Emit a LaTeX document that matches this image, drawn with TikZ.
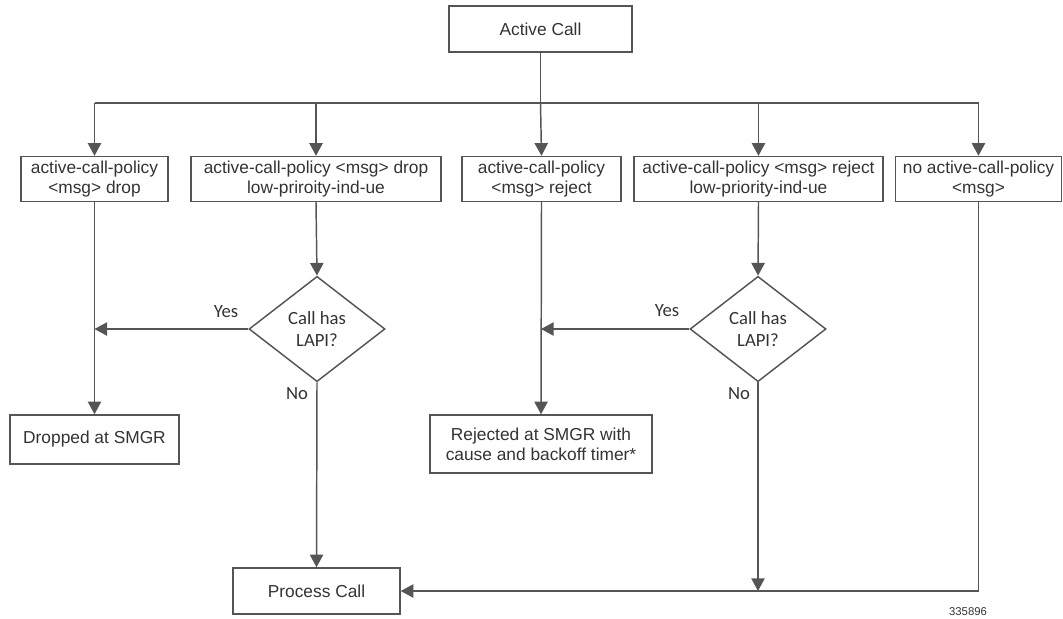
\documentclass[tikz,border=0pt]{standalone}
\usepackage{fontspec}
\setmainfont{Liberation Sans}
\newfontfamily\calfont{Carlito}
\usetikzlibrary{arrows.meta,shapes.geometric}
\definecolor{lncol}{HTML}{555555}
\definecolor{txcol}{HTML}{333333}
\begin{document}
\begin{tikzpicture}[x=0.75pt,y=-0.75pt,
  every node/.style={text=txcol},
  boxnode/.style={draw=lncol,line width=1.1pt,rectangle,inner sep=0pt,align=center,
    font=\fontsize{13pt}{15pt}\selectfont},
  decnode/.style={draw=lncol,line width=1.1pt,diamond,aspect=1.3,inner sep=0pt,align=center,
    minimum width=102pt,minimum height=79pt,font=\calfont\fontsize{14pt}{17pt}\selectfont},
  lbl/.style={font=\calfont\fontsize{14pt}{17pt}\selectfont,inner sep=0pt},
  conn/.style={draw=lncol,line width=1.1pt},
  arr/.style={conn,-{Triangle[length=9.5pt,width=10pt]}}]
\useasboundingbox (0,0) rectangle (1063,618);

\node[boxnode,minimum width=137.25pt,minimum height=34.5pt] (ac) at (540.5,29) {Active Call};

\node[boxnode,minimum width=110.25pt,minimum height=33.75pt] (p1) at (94.5,179) {active-call-policy\\\textless msg\textgreater{} drop};
\node[boxnode,minimum width=187.5pt,minimum height=33.75pt] (p2) at (316,179) {active-call-policy \textless msg\textgreater{} drop\\low-priroity-ind-ue};
\node[boxnode,minimum width=119.25pt,minimum height=33.75pt] (p3) at (541.5,179) {active-call-policy\\\textless msg\textgreater{} reject};
\node[boxnode,minimum width=186.75pt,minimum height=33.75pt] (p4) at (758.5,179) {active-call-policy \textless msg\textgreater{} reject\\low-priority-ind-ue};
\node[boxnode,minimum width=124.5pt,minimum height=33.75pt] (p5) at (978.5,179) {no active-call-policy\\\textless msg\textgreater};

\node[decnode] (d1) at (317,329) {Call has\\LAPI?};
\node[decnode] (d2) at (758,329) {Call has\\LAPI?};

\node[boxnode,minimum width=126.75pt,minimum height=36.75pt] (drop) at (94.5,439.5) {Dropped at SMGR};
\node[boxnode,minimum width=166.5pt,minimum height=43.5pt] (rej) at (541,444) {Rejected at SMGR with\\cause and backoff timer*};
\node[boxnode,minimum width=125.25pt,minimum height=34.5pt] (proc) at (316.5,591) {Process Call};

\node[lbl] (y1) at (226,312) {Yes};
\node[lbl] (y2) at (667,311) {Yes};
\node[lbl] (n1) at (297,394) {No};
\node[lbl] (n2) at (739,394) {No};

\node[inner sep=0pt,font=\fontsize{8.5pt}{10pt}\selectfont] (id) at (968,612) {335896};

\coordinate (bL) at (94.5,103);
\coordinate (bR) at (978.5,103);
\coordinate (bA) at (540.5,103);
\coordinate (j1) at (94.5,329);
\coordinate (j2) at (541,329);
\coordinate (m2) at (758,591);
\coordinate (c5) at (978.5,591);

\draw[conn] (ac.south) -- (bA);
\draw[conn] (bL) -- (bR);
\draw[arr] (bL) -- (p1.north);
\draw[arr] (p2.north |- bA) -- (p2.north);
\draw[arr] (bA) -- (p3.north);
\draw[arr] (p4.north |- bA) -- (p4.north);
\draw[arr] (bR) -- (p5.north);

\draw[arr] (p1.south) -- (drop.north);
\draw[arr] (p2.south) -- (d1.north);
\draw[arr] (d1.west) -- (j1);
\draw[arr] (d1.south) -- (proc.north);

\draw[arr] (p3.south) -- (rej.north);
\draw[arr] (p4.south) -- (d2.north);
\draw[arr] (d2.west) -- (j2);
\draw[arr] (d2.south) -- (m2);

\draw[arr] (p5.south) -- (c5) -- (proc.east);
\end{tikzpicture}
\end{document}
